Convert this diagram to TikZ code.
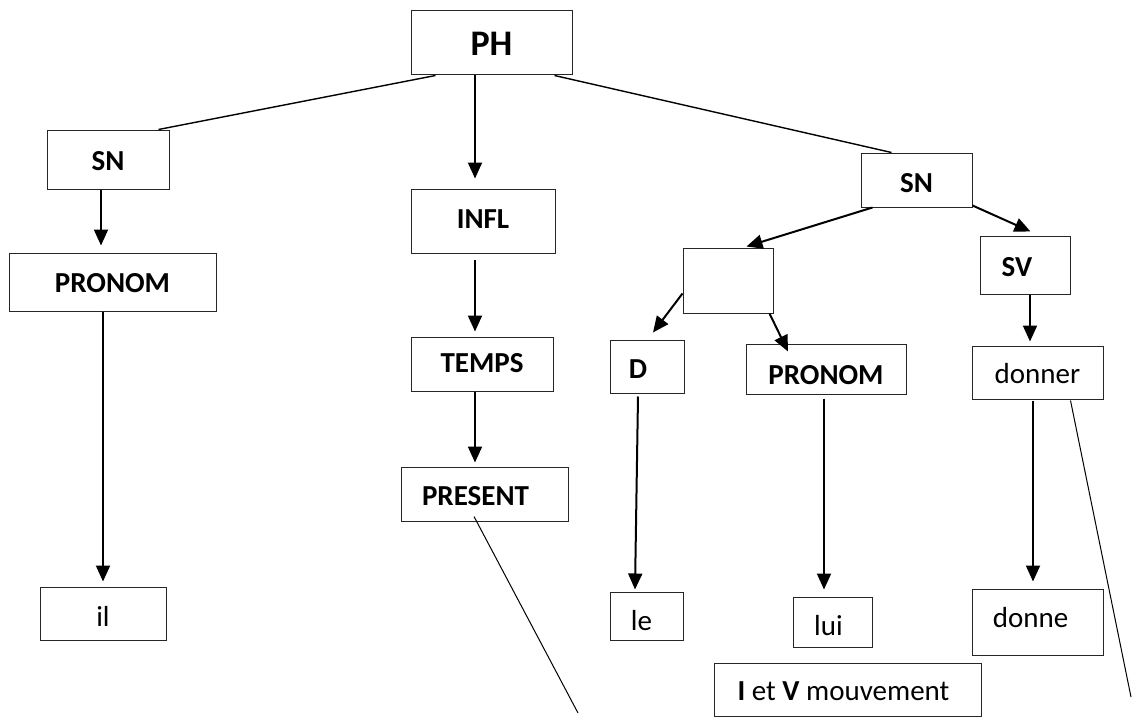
\documentclass[tikz,border=0pt]{standalone}
\usepackage{fontspec}
\setmainfont{Carlito}
\usetikzlibrary{arrows.meta}
\newcommand{\mvtxt}[3]{\raisebox{#2}[\height][\depth]{#1\kern#3}}
\begin{document}
\begin{tikzpicture}[x=1pt,y=-1pt,
  box/.style={draw=black!85,line width=1pt,inner sep=0pt,font=\fontsize{29}{32}\selectfont},
  bbox/.style={box,font=\fontsize{29}{32}\selectfont\bfseries},
  arr/.style={line width=2pt,-{Triangle[width=14pt,length=16pt]}},
  link/.style={line width=1.4pt},
  thin/.style={line width=1pt}]
\useasboundingbox (0,0) rectangle (1133,717);
% top
\node[bbox,minimum width=161pt,minimum height=64pt,font=\fontsize{36}{40}\selectfont\bfseries] (ph) at (491.5,43) {\mvtxt{PH}{-1pt}{0pt}};
% left branch
\node[bbox,minimum width=122pt,minimum height=59pt] (snl) at (108,159.5) {\mvtxt{SN}{-2pt}{0pt}};
\node[bbox,minimum width=207pt,minimum height=58pt] (pronl) at (112.5,282) {\mvtxt{PRONOM}{-1pt}{0pt}};
\node[box,minimum width=126pt,minimum height=53pt] (il) at (103,613.5) {\mvtxt{il}{-3pt}{0pt}};
% middle branch
\node[bbox,minimum width=144pt,minimum height=64pt] (infl) at (483,221) {\mvtxt{INFL}{2pt}{0pt}};
\node[bbox,minimum width=142pt,minimum height=54pt] (temps) at (482,364) {\mvtxt{TEMPS}{1pt}{0pt}};
\node[bbox,minimum width=167pt,minimum height=54pt] (present) at (484.5,494) {\mvtxt{PRESENT}{-2pt}{18pt}};
\coordinate (pend) at (578,713);
% right branch
\node[bbox,minimum width=111pt,minimum height=54pt] (snr) at (916.5,180) {\mvtxt{SN}{-3pt}{0pt}};
\node[box,minimum width=90pt,minimum height=65pt] (empty) at (728,280.5) {};
\node[bbox,minimum width=90pt,minimum height=58pt] (sv) at (1025,265) {\mvtxt{SV}{-2pt}{16pt}};
\node[bbox,minimum width=74pt,minimum height=53pt] (d) at (647,366.5) {\mvtxt{D}{-3pt}{18pt}};
\node[bbox,minimum width=160pt,minimum height=50pt] (pronr) at (826,369) {\mvtxt{PRONOM}{-6pt}{0pt}};
\node[box,minimum width=131pt,minimum height=53pt] (donner) at (1037.5,372.5) {\mvtxt{donner}{-1pt}{0pt}};
\node[box,minimum width=73pt,minimum height=48pt] (le) at (646.5,616) {\mvtxt{le}{-5pt}{10pt}};
\node[box,minimum width=79pt,minimum height=50pt] (lui) at (832.5,622) {\mvtxt{lui}{-4pt}{8pt}};
\node[box,minimum width=131pt,minimum height=66pt] (donne) at (1037.5,622) {\mvtxt{donne}{4pt}{14pt}};
\node[box,minimum width=267pt,minimum height=53pt] (mouv) at (847.5,689.5) {\mvtxt{\textbf{I} et \textbf{V} mouvement}{-2pt}{8pt}};
\coordinate (dend) at (1131,697);
% connectors
\draw[link] ([xshift=25pt]ph.south west) -- ([xshift=-11pt]snl.north east);
\draw[link] ([xshift=-18pt]ph.south east) -- ([xshift=31pt]snr.north west);
\draw[arr] ([xshift=-16.5pt]ph.south) -- ([xshift=-8pt,yshift=10pt]infl.north);
\draw[arr] ([xshift=-8pt,yshift=-6pt]infl.south) -- ([xshift=-7pt,yshift=5pt]temps.north);
\draw[arr] ([xshift=-7pt]temps.south) -- ([xshift=-9.5pt,yshift=4pt]present.north);
\draw[thin] ([xshift=-10.5pt,yshift=5pt]present.south) -- (pend);
\draw[arr] ([xshift=-7pt]snl.south) -- ([xshift=-11.5pt,yshift=7pt]pronl.north);
\draw[arr] ([xshift=-9.5pt]pronl.south) -- ([yshift=5pt]il.north);
\draw[arr] ([xshift=12pt]snr.south west) -- ([xshift=64pt,yshift=1pt]empty.north west);
\draw[arr] ([yshift=2pt]snr.south east) -- ([xshift=51pt,yshift=4pt]sv.north west);
\draw[arr] ([xshift=5pt]sv.south) -- ([xshift=-7.5pt,yshift=4pt]donner.north);
\draw[arr] ([yshift=20pt]empty.south west) -- ([xshift=6pt,yshift=7pt]d.north);
\draw[arr] ([xshift=-4pt]empty.south east) -- ([xshift=-38pt,yshift=-8pt]pronr.north);
\draw[arr] ([xshift=-9pt,yshift=-3pt]d.south) -- ([xshift=-11.5pt,yshift=2pt]le.north);
\draw[arr] ([xshift=-2pt,yshift=-4pt]pronr.south) -- ([xshift=-8.5pt,yshift=7pt]lui.north);
\draw[arr] ([xshift=-4.5pt,yshift=-1pt]donner.south) -- ([xshift=-4.5pt,yshift=7pt]donne.north);
\draw[thin] ([xshift=-33pt,yshift=-1pt]donner.south east) -- (dend);
\end{tikzpicture}
\end{document}
